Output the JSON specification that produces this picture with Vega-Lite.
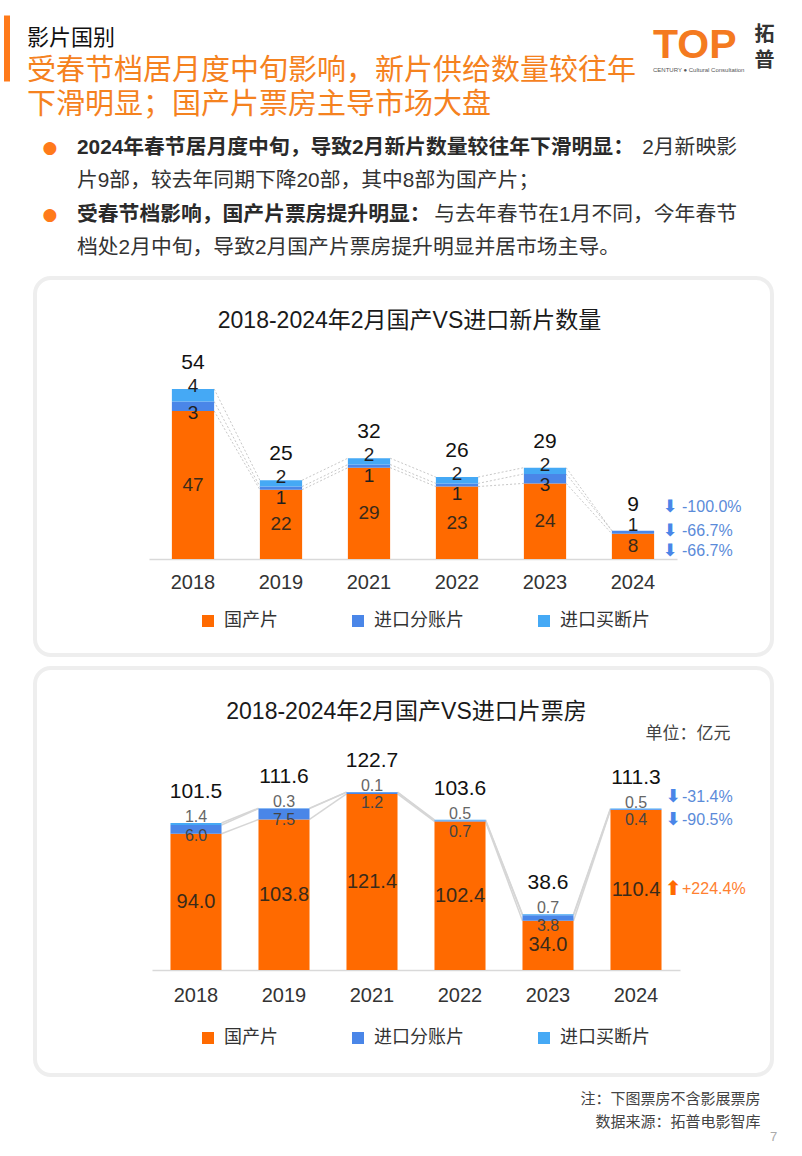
{
  "$schema": "https://vega.github.io/schema/vega-lite/v6.json",
  "background": "white",
  "padding": {"left": 1, "top": 24, "right": 0, "bottom": 0},
  "bounds": "flush",
  "spacing": 13,
  "config": {"font": "Liberation Sans, Noto Sans CJK SC", "view": {"stroke": null}},
  "title": {"text": "TOP", "subtitle": "CENTURY ● Cultural Consultation", "anchor": "start", "frame": "group", "dx": 618, "offset": -50, "fontSize": 41, "fontWeight": "bold", "color": "#F47A20", "font": "Liberation Sans", "subtitleFontSize": 6, "subtitleColor": "#555555", "subtitlePadding": 0, "subtitleFont": "Liberation Sans"},
  "resolve": {"scale": {"color": "independent"}, "legend": {"color": "independent"}},
  "datasets": {
    "films": [
      {"year": "2018", "cat": "国产片", "k": 1, "value": 47},
      {"year": "2018", "cat": "进口分账片", "k": 2, "value": 3},
      {"year": "2018", "cat": "进口买断片", "k": 3, "value": 4},
      {"year": "2019", "cat": "国产片", "k": 1, "value": 22},
      {"year": "2019", "cat": "进口分账片", "k": 2, "value": 1},
      {"year": "2019", "cat": "进口买断片", "k": 3, "value": 2},
      {"year": "2021", "cat": "国产片", "k": 1, "value": 29},
      {"year": "2021", "cat": "进口分账片", "k": 2, "value": 1},
      {"year": "2021", "cat": "进口买断片", "k": 3, "value": 2},
      {"year": "2022", "cat": "国产片", "k": 1, "value": 23},
      {"year": "2022", "cat": "进口分账片", "k": 2, "value": 1},
      {"year": "2022", "cat": "进口买断片", "k": 3, "value": 2},
      {"year": "2023", "cat": "国产片", "k": 1, "value": 24},
      {"year": "2023", "cat": "进口分账片", "k": 2, "value": 3},
      {"year": "2023", "cat": "进口买断片", "k": 3, "value": 2},
      {"year": "2024", "cat": "国产片", "k": 1, "value": 8, "chg": "-66.7%"},
      {"year": "2024", "cat": "进口分账片", "k": 2, "value": 1, "chg": "-66.7%"},
      {"year": "2024", "cat": "进口买断片", "k": 3, "value": 0, "chg": "-100.0%"}
    ],
    "filmTotals": [
      {"year": "2018", "total": 54},
      {"year": "2019", "total": 25},
      {"year": "2021", "total": 32},
      {"year": "2022", "total": 26},
      {"year": "2023", "total": 29},
      {"year": "2024", "total": 9}
    ],
    "box": [
      {"year": "2018", "cat": "国产片", "k": 1, "value": 94.0},
      {"year": "2018", "cat": "进口分账片", "k": 2, "value": 6.0},
      {"year": "2018", "cat": "进口买断片", "k": 3, "value": 1.4},
      {"year": "2019", "cat": "国产片", "k": 1, "value": 103.8},
      {"year": "2019", "cat": "进口分账片", "k": 2, "value": 7.5},
      {"year": "2019", "cat": "进口买断片", "k": 3, "value": 0.3},
      {"year": "2021", "cat": "国产片", "k": 1, "value": 121.4},
      {"year": "2021", "cat": "进口分账片", "k": 2, "value": 1.2},
      {"year": "2021", "cat": "进口买断片", "k": 3, "value": 0.1},
      {"year": "2022", "cat": "国产片", "k": 1, "value": 102.4},
      {"year": "2022", "cat": "进口分账片", "k": 2, "value": 0.7},
      {"year": "2022", "cat": "进口买断片", "k": 3, "value": 0.5},
      {"year": "2023", "cat": "国产片", "k": 1, "value": 34.0},
      {"year": "2023", "cat": "进口分账片", "k": 2, "value": 3.8},
      {"year": "2023", "cat": "进口买断片", "k": 3, "value": 0.7},
      {"year": "2024", "cat": "国产片", "k": 1, "value": 110.4, "chg": "+224.4%"},
      {"year": "2024", "cat": "进口分账片", "k": 2, "value": 0.4, "chg": "-90.5%"},
      {"year": "2024", "cat": "进口买断片", "k": 3, "value": 0.5, "chg": "-31.4%"}
    ],
    "boxTotals": [
      {"year": "2018", "total": 101.5},
      {"year": "2019", "total": 111.6},
      {"year": "2021", "total": 122.7},
      {"year": "2022", "total": 103.6},
      {"year": "2023", "total": 38.6},
      {"year": "2024", "total": 111.3}
    ],
    "bullets": [
      {"row": "a1", "lead": "2024年春节居月度中旬，导致2月新片数量较往年下滑明显：", "tail": "2月新映影"},
      {"row": "a2", "body": "片9部，较去年同期下降20部，其中8部为国产片；"},
      {"row": "b1", "lead": "受春节档影响，国产片票房提升明显：", "tail": "与去年春节在1月不同，今年春节"},
      {"row": "b2", "body": "档处2月中旬，导致2月国产片票房提升明显并居市场主导。"}
    ]
  },
  "vconcat": [
    {
      "width": 737,
      "height": 134,
      "data": {"name": "bullets"},
      "title": {"text": "影片国别", "subtitle": ["受春节档居月度中旬影响，新片供给数量较往年", "下滑明显；国产片票房主导市场大盘"], "anchor": "start", "frame": "group", "dx": -8, "offset": -97, "fontSize": 22, "fontWeight": "normal", "color": "#111111", "font": "Noto Sans CJK SC", "subtitleFont": "Noto Sans CJK SC", "subtitleFontSize": 29, "subtitleColor": "#F5821F", "subtitleLineHeight": 34, "subtitlePadding": 7},
      "encoding": {
        "y": {"field": "row", "type": "nominal", "sort": null, "scale": {"type": "point", "padding": 0.5, "domain": ["a1", "a2", "b1", "b2"]},
          "axis": {"labels": false, "ticks": false, "domain": false, "grid": false, "title": ["拓", "普"], "titleAngle": 0, "titleX": 729, "titleY": -107, "titleAlign": "center", "titleBaseline": "top", "titleFontSize": 20, "titleFontWeight": "bold", "titleColor": "#333333", "titleLineHeight": 26, "titleFont": "Noto Sans CJK SC"}}
      },
      "layer": [
        {
          "transform": [{"filter": "datum.lead"}],
          "mark": {"type": "text", "text": "●", "fontSize": 17, "dx": -353.5, "baseline": "middle", "font": "DejaVu Sans"},
          "encoding": {
            "color": {"datum": "标记", "type": "nominal", "scale": {"range": ["#FF7A1A"]},
              "legend": {"orient": "none", "legendX": -34, "legendY": -88.5, "title": null, "labelExpr": "''", "symbolType": "M-0.5,-5.5L0.5,-5.5L0.5,5.5L-0.5,5.5Z", "symbolSize": 144, "symbolStrokeWidth": 0, "padding": 0, "labelFontSize": 1}}
          }
        },
        {
          "transform": [{"filter": "datum.lead"}],
          "mark": {"type": "text", "align": "left", "baseline": "middle", "dx": -326.5, "fontSize": 20.8, "fontWeight": "bold", "color": "#2a2a2a"},
          "encoding": {"text": {"field": "lead"}}
        },
        {
          "transform": [{"filter": "datum.lead"}],
          "mark": {"type": "text", "align": "right", "baseline": "middle", "dx": 333.5, "fontSize": 20.8, "color": "#333333"},
          "encoding": {"text": {"field": "tail"}}
        },
        {
          "transform": [{"filter": "datum.body"}],
          "mark": {"type": "text", "align": "left", "baseline": "middle", "dx": -326.5, "fontSize": 20.8, "color": "#333333"},
          "encoding": {"text": {"field": "body"}}
        }
      ]
    },
    {
      "width": 737,
      "height": 377,
      "view": {"fill": "white", "stroke": "#eeeeee", "strokeWidth": 4, "cornerRadius": 16},
      "title": {"text": "2018-2024年2月国产VS进口新片数量", "anchor": "middle", "frame": "group", "offset": -55, "dx": 6, "fontSize": 23, "fontWeight": "normal", "color": "#1a1a1a"},
      "layer": [
        {
          "data": {"name": "films"},
          "transform": [
            {"stack": "value", "groupby": ["year"], "sort": [{"field": "k", "order": "ascending"}], "as": ["v0", "v1"]},
            {"window": [{"op": "lead", "field": "v1", "as": "n1"}, {"op": "lead", "field": "year", "as": "ny"}], "groupby": ["cat"], "sort": [{"field": "year", "order": "ascending"}]},
            {"filter": "datum.ny != null"}
          ],
          "mark": {"type": "rule", "color": "#c8c8c8", "strokeWidth": 1, "strokeDash": [2, 2]},
          "encoding": {
            "x": {"field": "year", "type": "nominal", "bandPosition": 1},
            "x2": {"field": "ny", "bandPosition": 0},
            "y": {"field": "v1", "type": "quantitative", "axis": null},
            "y2": {"field": "n1"}
          }
        },
        {
          "data": {"name": "films"},
          "mark": {"type": "bar"},
          "encoding": {
            "x": {"field": "year", "type": "nominal", "scale": {"range": [114, 642], "paddingInner": 0.52, "paddingOuter": 0.26},
              "axis": {"title": "7", "titleX": 738, "titleY": 577, "titleFontSize": 13, "titleColor": "#aaaaaa", "titleFontWeight": "normal", "titleAlign": "center", "titleBaseline": "middle", "bandPosition": 0.5, "labelAngle": 0, "labelAlign": "center", "labelFontSize": 20, "labelColor": "#333333", "labelPadding": 23, "labelBaseline": "middle", "ticks": false, "domain": true, "domainColor": "#d9d9d9", "domainWidth": 1.5, "offset": -96, "grid": false, "labelFont": "Liberation Sans"}},
            "y": {"field": "value", "type": "quantitative", "stack": "zero", "scale": {"domain": [0, 60], "range": [281, 92], "nice": false, "zero": true}, "axis": null},
            "color": {"field": "cat", "type": "nominal", "scale": {"domain": ["国产片", "进口分账片", "进口买断片"], "range": ["#FF6A00", "#4A86E8", "#45A9F5"]},
              "legend": {"orient": "none", "legendX": 164, "legendY": 334, "direction": "horizontal", "title": null, "symbolType": "square", "symbolSize": 144, "symbolStrokeWidth": 0, "labelFontSize": 18, "labelColor": "#333333", "labelOffset": 7, "columnPadding": 71, "padding": 0, "labelFont": "Noto Sans CJK SC"}},
            "order": {"field": "k", "type": "quantitative"}
          }
        },
        {
          "data": {"name": "films"},
          "transform": [{"filter": "datum.cat === '国产片'"}],
          "mark": {"type": "text", "fontSize": 19, "color": "#3a2a1a", "baseline": "middle"},
          "encoding": {
            "x": {"field": "year", "type": "nominal"},
            "y": {"field": "value", "type": "quantitative", "stack": "zero", "bandPosition": 0.5, "axis": null},
            "text": {"field": "value", "type": "quantitative"}
          }
        },
        {
          "data": {"name": "films"},
          "transform": [
            {"stack": "value", "groupby": ["year"], "sort": [{"field": "k", "order": "ascending"}], "as": ["v0", "v1"]},
            {"filter": "datum.cat === '进口分账片' && datum.value > 0 && datum.year !== '2024'"}
          ],
          "mark": {"type": "text", "fontSize": 19, "color": "#1f1f1f", "baseline": "middle", "dy": 11},
          "encoding": {
            "x": {"field": "year", "type": "nominal"},
            "y": {"field": "v1", "type": "quantitative", "axis": null},
            "text": {"field": "value", "type": "quantitative"}
          }
        },
        {
          "data": {"name": "films"},
          "transform": [
            {"stack": "value", "groupby": ["year"], "sort": [{"field": "k", "order": "ascending"}], "as": ["v0", "v1"]},
            {"filter": "datum.cat === '进口分账片' && datum.year === '2024'"}
          ],
          "mark": {"type": "text", "fontSize": 19, "color": "#1f1f1f", "baseline": "middle", "dy": -6},
          "encoding": {
            "x": {"field": "year", "type": "nominal"},
            "y": {"field": "v1", "type": "quantitative", "axis": null},
            "text": {"field": "value", "type": "quantitative"}
          }
        },
        {
          "data": {"name": "films"},
          "transform": [
            {"stack": "value", "groupby": ["year"], "sort": [{"field": "k", "order": "ascending"}], "as": ["v0", "v1"]},
            {"filter": "datum.cat === '进口买断片' && datum.value > 0"}
          ],
          "mark": {"type": "text", "fontSize": 19, "color": "#1f1f1f", "baseline": "middle", "dy": -3},
          "encoding": {
            "x": {"field": "year", "type": "nominal"},
            "y": {"field": "v1", "type": "quantitative", "axis": null},
            "text": {"field": "value", "type": "quantitative"}
          }
        },
        {
          "data": {"name": "filmTotals"},
          "mark": {"type": "text", "fontSize": 21, "color": "#111111", "baseline": "middle", "dy": -26},
          "encoding": {
            "x": {"field": "year", "type": "nominal"},
            "y": {"field": "total", "type": "quantitative", "axis": null},
            "text": {"field": "total", "type": "quantitative"}
          }
        },
        {
          "data": {"name": "films"},
          "transform": [
            {"stack": "value", "groupby": ["year"], "sort": [{"field": "k", "order": "ascending"}], "as": ["v0", "v1"]},
            {"filter": "datum.year === '2024' && datum.cat === '进口买断片'"}
          ],
          "layer": [
            {"mark": {"type": "text", "text": "⬇", "font": "DejaVu Sans", "fontWeight": "bold", "fontSize": 17, "color": "#4A86E8", "baseline": "middle", "dx": 37, "dy": -24}},
            {"mark": {"type": "text", "fontSize": 16, "color": "#5B8BD9", "align": "left", "baseline": "middle", "dx": 49, "dy": -24}, "encoding": {"text": {"field": "chg"}}}
          ],
          "encoding": {
            "x": {"field": "year", "type": "nominal"},
            "y": {"field": "v1", "type": "quantitative", "axis": null}
          }
        },
        {
          "data": {"name": "films"},
          "transform": [
            {"stack": "value", "groupby": ["year"], "sort": [{"field": "k", "order": "ascending"}], "as": ["v0", "v1"]},
            {"filter": "datum.year === '2024' && datum.cat === '进口分账片'"}
          ],
          "layer": [
            {"mark": {"type": "text", "text": "⬇", "font": "DejaVu Sans", "fontWeight": "bold", "fontSize": 17, "color": "#4A86E8", "baseline": "middle", "dx": 37, "dy": 0}},
            {"mark": {"type": "text", "fontSize": 16, "color": "#5B8BD9", "align": "left", "baseline": "middle", "dx": 49, "dy": 0}, "encoding": {"text": {"field": "chg"}}}
          ],
          "encoding": {
            "x": {"field": "year", "type": "nominal"},
            "y": {"field": "v1", "type": "quantitative", "axis": null}
          }
        },
        {
          "data": {"name": "films"},
          "transform": [
            {"stack": "value", "groupby": ["year"], "sort": [{"field": "k", "order": "ascending"}], "as": ["v0", "v1"]},
            {"filter": "datum.year === '2024' && datum.cat === '国产片'"}
          ],
          "layer": [
            {"mark": {"type": "text", "text": "⬇", "font": "DejaVu Sans", "fontWeight": "bold", "fontSize": 17, "color": "#4A86E8", "baseline": "middle", "dx": 37, "dy": 17}},
            {"mark": {"type": "text", "fontSize": 16, "color": "#5B8BD9", "align": "left", "baseline": "middle", "dx": 49, "dy": 17}, "encoding": {"text": {"field": "chg"}}}
          ],
          "encoding": {
            "x": {"field": "year", "type": "nominal"},
            "y": {"field": "v1", "type": "quantitative", "axis": null}
          }
        }
      ]
    },
    {
      "width": 737,
      "height": 407,
      "view": {"fill": "white", "stroke": "#eeeeee", "strokeWidth": 4, "cornerRadius": 16},
      "title": {"text": "2018-2024年2月国产VS进口片票房", "anchor": "middle", "frame": "group", "offset": -56, "dx": 3, "fontSize": 23, "fontWeight": "normal", "color": "#1a1a1a"},
      "layer": [
        {
          "data": {"name": "box"},
          "transform": [
            {"stack": "value", "groupby": ["year"], "sort": [{"field": "k", "order": "ascending"}], "as": ["v0", "v1"]},
            {"window": [{"op": "lead", "field": "v1", "as": "n1"}, {"op": "lead", "field": "year", "as": "ny"}], "groupby": ["cat"], "sort": [{"field": "year", "order": "ascending"}]},
            {"filter": "datum.ny != null"}
          ],
          "mark": {"type": "rule", "color": "#d6d6d6", "strokeWidth": 1.5},
          "encoding": {
            "x": {"field": "year", "type": "nominal", "bandPosition": 1},
            "x2": {"field": "ny", "bandPosition": 0},
            "y": {"field": "v1", "type": "quantitative"},
            "y2": {"field": "n1"}
          }
        },
        {
          "data": {"name": "box"},
          "mark": {"type": "bar"},
          "encoding": {
            "x": {"field": "year", "type": "nominal", "scale": {"range": [117, 645], "paddingInner": 0.42, "paddingOuter": 0.21},
              "axis": {"title": ["注：下图票房不含影展票房", "数据来源：拓普电影智库"], "titleX": 725, "titleY": 121, "titleAlign": "right", "titleBaseline": "top", "titleFontSize": 15, "titleLineHeight": 23, "titleColor": "#444444", "titleFontWeight": "normal", "titleFont": "Noto Sans CJK SC", "bandPosition": 0.5, "labelAngle": 0, "labelAlign": "center", "labelFontSize": 20, "labelColor": "#333333", "labelPadding": 25, "labelBaseline": "middle", "ticks": false, "domain": true, "domainColor": "#d9d9d9", "domainWidth": 1.5, "offset": -105, "grid": false, "labelFont": "Liberation Sans"}},
            "y": {"field": "value", "type": "quantitative", "stack": "zero", "scale": {"domain": [0, 140], "range": [302, 99], "nice": false, "zero": true},
              "axis": {"labels": false, "ticks": false, "domain": false, "grid": false, "title": "单位：亿元", "titleAngle": 0, "titleX": 695, "titleY": 65, "titleAlign": "right", "titleBaseline": "middle", "titleFontSize": 17, "titleFontWeight": "normal", "titleColor": "#444444", "titleFont": "Noto Sans CJK SC"}},
            "color": {"field": "cat", "type": "nominal", "scale": {"domain": ["国产片", "进口分账片", "进口买断片"], "range": ["#FF6A00", "#4A86E8", "#45A9F5"]},
              "legend": {"orient": "none", "legendX": 164, "legendY": 361, "direction": "horizontal", "title": null, "symbolType": "square", "symbolSize": 144, "symbolStrokeWidth": 0, "labelFontSize": 18, "labelColor": "#333333", "labelOffset": 7, "columnPadding": 71, "padding": 0, "labelFont": "Noto Sans CJK SC"}},
            "order": {"field": "k", "type": "quantitative"}
          }
        },
        {
          "data": {"name": "box"},
          "transform": [{"filter": "datum.cat === '国产片'"}],
          "mark": {"type": "text", "fontSize": 20, "color": "#3a2a1a", "baseline": "middle"},
          "encoding": {
            "x": {"field": "year", "type": "nominal"},
            "y": {"field": "value", "type": "quantitative", "stack": "zero", "bandPosition": 0.5},
            "text": {"field": "value", "type": "quantitative", "format": ".1f"}
          }
        },
        {
          "data": {"name": "box"},
          "transform": [
            {"stack": "value", "groupby": ["year"], "sort": [{"field": "k", "order": "ascending"}], "as": ["v0", "v1"]},
            {"filter": "datum.cat === '进口分账片'"}
          ],
          "mark": {"type": "text", "fontSize": 16, "color": "#444444", "baseline": "middle", "dy": 11},
          "encoding": {
            "x": {"field": "year", "type": "nominal"},
            "y": {"field": "v1", "type": "quantitative"},
            "text": {"field": "value", "type": "quantitative", "format": ".1f"}
          }
        },
        {
          "data": {"name": "box"},
          "transform": [
            {"stack": "value", "groupby": ["year"], "sort": [{"field": "k", "order": "ascending"}], "as": ["v0", "v1"]},
            {"filter": "datum.cat === '进口买断片'"}
          ],
          "mark": {"type": "text", "fontSize": 16, "color": "#666666", "baseline": "middle", "dy": -6},
          "encoding": {
            "x": {"field": "year", "type": "nominal"},
            "y": {"field": "v1", "type": "quantitative"},
            "text": {"field": "value", "type": "quantitative", "format": ".1f"}
          }
        },
        {
          "data": {"name": "boxTotals"},
          "mark": {"type": "text", "fontSize": 21, "color": "#111111", "baseline": "middle", "dy": -31},
          "encoding": {
            "x": {"field": "year", "type": "nominal"},
            "y": {"field": "total", "type": "quantitative"},
            "text": {"field": "total", "type": "quantitative", "format": ".1f"}
          }
        },
        {
          "data": {"name": "box"},
          "transform": [
            {"stack": "value", "groupby": ["year"], "sort": [{"field": "k", "order": "ascending"}], "as": ["v0", "v1"]},
            {"filter": "datum.year === '2024' && datum.cat === '进口买断片'"}
          ],
          "layer": [
            {"mark": {"type": "text", "text": "⬇", "font": "DejaVu Sans", "fontWeight": "bold", "fontSize": 18, "color": "#4A86E8", "baseline": "middle", "dx": 37, "dy": -12}},
            {"mark": {"type": "text", "fontSize": 16, "color": "#5B8BD9", "align": "left", "baseline": "middle", "dx": 46, "dy": -12}, "encoding": {"text": {"field": "chg"}}}
          ],
          "encoding": {
            "x": {"field": "year", "type": "nominal"},
            "y": {"field": "v1", "type": "quantitative"}
          }
        },
        {
          "data": {"name": "box"},
          "transform": [
            {"stack": "value", "groupby": ["year"], "sort": [{"field": "k", "order": "ascending"}], "as": ["v0", "v1"]},
            {"filter": "datum.year === '2024' && datum.cat === '进口分账片'"}
          ],
          "layer": [
            {"mark": {"type": "text", "text": "⬇", "font": "DejaVu Sans", "fontWeight": "bold", "fontSize": 18, "color": "#4A86E8", "baseline": "middle", "dx": 37, "dy": 11}},
            {"mark": {"type": "text", "fontSize": 16, "color": "#5B8BD9", "align": "left", "baseline": "middle", "dx": 46, "dy": 11}, "encoding": {"text": {"field": "chg"}}}
          ],
          "encoding": {
            "x": {"field": "year", "type": "nominal"},
            "y": {"field": "v1", "type": "quantitative"}
          }
        },
        {
          "data": {"name": "box"},
          "transform": [
            {"stack": "value", "groupby": ["year"], "sort": [{"field": "k", "order": "ascending"}], "as": ["v0", "v1"]},
            {"filter": "datum.year === '2024' && datum.cat === '国产片'"}
          ],
          "layer": [
            {"mark": {"type": "text", "text": "⬆", "font": "DejaVu Sans", "fontWeight": "bold", "fontSize": 20, "color": "#FF6A00", "baseline": "middle", "dx": 37, "dy": 79}},
            {"mark": {"type": "text", "fontSize": 16, "color": "#FF8030", "align": "left", "baseline": "middle", "dx": 46, "dy": 79}, "encoding": {"text": {"field": "chg"}}}
          ],
          "encoding": {
            "x": {"field": "year", "type": "nominal"},
            "y": {"field": "v1", "type": "quantitative"}
          }
        }
      ]
    }
  ]
}
